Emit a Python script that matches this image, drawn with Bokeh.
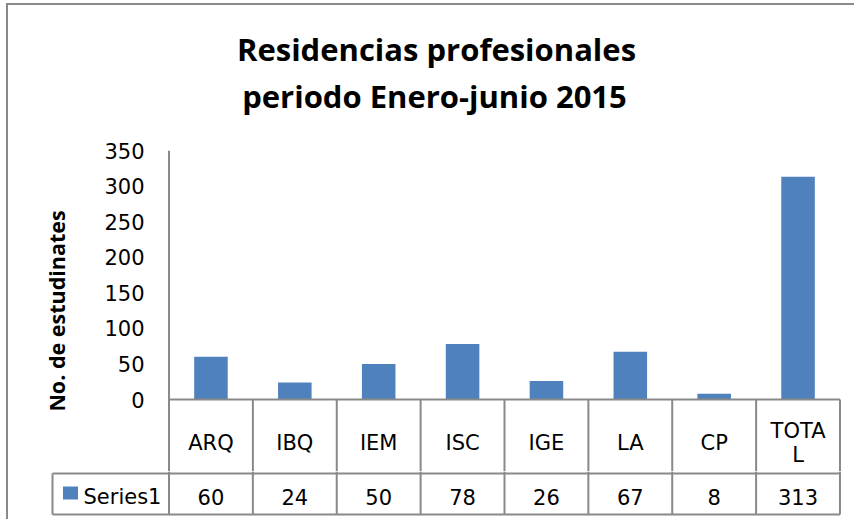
from bokeh.plotting import figure
from bokeh.models import FactorRange, Range1d, FixedTicker
from bokeh.layouts import column
from bokeh.embed import file_html
from bokeh.resources import INLINE
from bokeh.core.properties import value

# ---------------- data ----------------
title_lines = ["Residencias profesionales", "periodo Enero-junio 2015"]
categories = ["ARQ", "IBQ", "IEM", "ISC", "IGE", "LA", "CP", "TOTAL"]
category_labels = ["ARQ", "IBQ", "IEM", "ISC", "IGE", "LA", "CP", "TOTA\nL"]
series_name = "Series1"
values = [60, 24, 50, 78, 26, 67, 8, 313]
y_ticks = [0, 50, 100, 150, 200, 250, 300, 350]
y_label = "No. de estudinates"

# ---------------- style ----------------
BAR = "#4F81BD"
LINE = "#898989"
FONT = "DejaVu Sans"
TFONT = "Open Sans"
W = 846
RB = 12                         # right border of the frames
PAD = 0.03                      # category-range padding (units)
UNIT = 676 / (len(categories) + 2 * PAD)   # px per category

# ---------------- title figure ----------------
H0 = 123
p0 = figure(width=W, height=H0, output_backend="svg", toolbar_location=None,
            x_range=Range1d(0, W), y_range=Range1d(0, H0),
            min_border=0, x_axis_location=None, y_axis_location=None)
p0.frame_align = False
p0.outline_line_color = None
p0.grid.visible = False
p0.text(x=[428, 426], y=[80, 33], text=title_lines,
        text_font=value(TFONT), text_font_size="31px", text_font_style="bold",
        text_align="center", text_baseline="middle", text_color="#000000")

# ---------------- chart figure ----------------
H1 = 343
y_bottom = -72 / (249 / 350)
p1 = figure(width=W, height=H1, output_backend="svg", toolbar_location=None,
            x_range=FactorRange(factors=categories, range_padding=PAD,
                                range_padding_units="absolute"),
            y_range=Range1d(y_bottom, 350),
            min_border_left=158, min_border_right=RB, min_border_top=22,
            min_border_bottom=0, x_axis_location=None)
p1.frame_align = False
p1.outline_line_color = None
p1.grid.visible = False
p1.vbar(x=categories, top=values, bottom=0, width=0.4, color=BAR, line_color=None)

yax = p1.yaxis[0]
yax.ticker = FixedTicker(ticks=y_ticks)
yax.axis_line_color = None
yax.major_tick_line_color = None
yax.minor_tick_line_color = None
yax.major_tick_out = 0
yax.major_label_standoff = 22
yax.major_label_text_font = FONT
yax.major_label_text_font_size = "21px"
yax.major_label_text_color = "#000000"
yax.axis_label = y_label
yax.axis_label_text_font = TFONT
yax.axis_label_text_font_size = "21.5px"
yax.axis_label_text_font_style = "bold"
yax.axis_label_text_color = "#000000"
yax.axis_label_standoff = 30

n = len(categories)
bounds = list(range(n + 1))
# vertical axis line and category dividers
p1.segment(x0=[0], y0=[y_bottom], x1=[0], y1=[350], line_color=LINE, line_width=2)
p1.segment(x0=bounds[1:], y0=[y_bottom] * n, x1=bounds[1:], y1=[0] * n,
           line_color=LINE, line_width=2)
p1.segment(x0=[0], y0=[0], x1=[n], y1=[0], line_color=LINE, line_width=2)
p1.text(x=categories, y=[-61] * n, text=category_labels,
        text_font=value(FONT), text_font_size="21px", text_align="center",
        text_baseline="middle", text_line_height=0.98, text_color="#000000")

# ---------------- data-table row figure ----------------
H2 = 48
x_start = -(168.5 - 50) / UNIT
x_end = x_start + (W - 42 - RB) / UNIT
p2 = figure(width=W, height=H2, output_backend="svg", toolbar_location=None,
            x_range=Range1d(x_start, x_end), y_range=Range1d(0, H2),
            min_border_left=42, min_border_right=RB, min_border_top=0,
            min_border_bottom=0, x_axis_location=None, y_axis_location=None)
p2.frame_align = False
p2.outline_line_color = None
p2.grid.visible = False
x_left = (52 - 168.5) / UNIT
p2.segment(x0=bounds, y0=[5] * (n + 1), x1=bounds, y1=[H2] * (n + 1),
           line_color=LINE, line_width=2)
p2.segment(x0=[x_left, x_left, x_left], y0=[5, 5, 46], x1=[x_left, n, n],
           y1=[46, 5, 46], line_color=LINE, line_width=2)
centers = [i + 0.5 for i in range(n)]
p2.text(x=centers, y=[22.5] * n, text=[str(v) for v in values],
        text_font=value(FONT), text_font_size="21px", text_align="center",
        text_baseline="middle", text_color="#000000")
p2.rect(x=[(70 - 168.5) / UNIT], y=[26.5], width=15, height=13,
        width_units="screen", height_units="screen", color=BAR, line_color=None)
p2.text(x=[(83 - 168.5) / UNIT], y=[22.5], text=[series_name],
        text_font=value(FONT), text_font_size="21px", text_align="left",
        text_baseline="middle", text_color="#000000")

layout = column(p0, p1, p2, spacing=0,
                styles={"border-left": "2px solid #8a8a8a",
                        "border-top": "2px solid #8a8a8a",
                        "margin-left": "6px", "margin-top": "3px"})

open("out.html", "w").write(file_html(layout, INLINE))
